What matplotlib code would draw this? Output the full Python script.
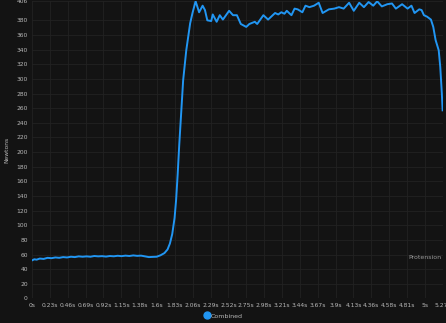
import matplotlib
matplotlib.use("Agg")
import matplotlib.pyplot as plt
from matplotlib.lines import Line2D

# force trace (seconds, newtons)
times = [0.00, 0.03, 0.06, 0.10, 0.15, 0.20, 0.25, 0.30, 0.35, 0.40, 0.45, 0.50,
         0.55, 0.60, 0.65, 0.70, 0.75, 0.80, 0.85, 0.90, 0.95, 1.00, 1.05, 1.10,
         1.15, 1.20, 1.25, 1.30, 1.35, 1.40, 1.45, 1.50, 1.55, 1.60, 1.65, 1.70,
         1.74, 1.77, 1.80, 1.83, 1.85, 1.87, 1.89, 1.91, 1.94, 1.98, 2.03, 2.06,
         2.10, 2.145, 2.19, 2.22, 2.25, 2.30, 2.32, 2.37, 2.41, 2.45, 2.53, 2.58,
         2.63, 2.68, 2.75, 2.79, 2.86, 2.89, 2.97, 3.03, 3.12, 3.16, 3.20, 3.24,
         3.27, 3.33, 3.37, 3.41, 3.47, 3.51, 3.56, 3.62, 3.68, 3.73, 3.81, 3.88,
         3.94, 4.00, 4.07, 4.13, 4.20, 4.26, 4.32, 4.38, 4.43, 4.49, 4.56, 4.62,
         4.67, 4.75, 4.82, 4.87, 4.91, 4.97, 5.00, 5.03, 5.07, 5.12, 5.15, 5.18,
         5.22, 5.24, 5.26, 5.27]
force = [52.0, 53.5, 53.0, 54.5, 54.0, 55.5, 55.0, 56.0, 55.5, 56.5, 56.0, 57.0,
         56.5, 57.5, 57.0, 57.5, 57.0, 58.0, 57.5, 57.8, 57.2, 58.0, 57.6, 58.3,
         57.8, 58.5, 58.0, 58.8, 58.2, 58.5, 57.5, 56.5, 56.8, 57.0, 59.0, 62.0,
         67.0, 75.0, 88.0, 110.0, 135.0, 170.0, 210.0, 245.0, 298.0, 339.0, 376.0, 390.0,
         406.0, 391.0, 400.0, 394.0, 380.0, 379.0, 388.0, 378.0, 387.0, 381.0, 393.0, 387.0,
         387.0, 375.0, 371.0, 375.0, 378.0, 375.0, 387.0, 381.0, 390.0, 388.0, 391.0, 389.0,
         393.0, 387.0, 396.0, 395.0, 391.0, 400.0, 398.0, 400.0, 404.0, 390.0, 395.0, 396.0,
         398.0, 396.0, 404.0, 393.0, 404.0, 398.0, 405.0, 400.0, 406.0, 399.0, 402.0, 403.0,
         396.0, 402.0, 396.0, 400.0, 390.0, 395.0, 394.0, 387.0, 385.0, 381.0, 371.0, 353.0,
         339.0, 316.0, 280.0, 257.0]

x_ticks = [i * 0.2292 for i in range(24)]
x_labels = ["0s", "0.23s", "0.46s", "0.69s", "0.92s", "1.15s", "1.38s", "1.6s",
            "1.83s", "2.06s", "2.29s", "2.52s", "2.75s", "2.98s", "3.21s", "3.44s",
            "3.67s", "3.9s", "4.13s", "4.36s", "4.58s", "4.81s", "5s", "5.27s"]
y_ticks = list(range(0, 381, 20)) + [406]

bg = "#131313"
grid_c = "#222222"
text_c = "#b8b8b8"
line_c = "#2196f3"

fig = plt.figure(figsize=(4.46, 3.23), dpi=100, facecolor=bg)
ax = fig.add_axes([0.0717, 0.076, 0.921, 0.92], facecolor=bg)

ax.plot(times, force, color=line_c, lw=1.4, solid_joinstyle="round")

ax.set_xlim(0, 5.27)
ax.set_ylim(0, 406)
ax.set_xticks(x_ticks)
ax.set_xticklabels(x_labels)
ax.set_yticks(y_ticks)
ax.tick_params(colors=text_c, labelsize=4.3, length=0, pad=3)
ax.grid(True, color=grid_c, lw=0.6)
for s in ax.spines.values():
    s.set_visible(False)

ax.set_ylabel("Newtons", color=text_c, fontsize=4.3, labelpad=5)
ax.text(5.25, 56, "Protension", color="#9a9a9a", fontsize=4.5,
        ha="right", va="center")

handle = Line2D([], [], marker="o", color=line_c, lw=0, markersize=5)
leg = fig.legend([handle], ["Combined"], loc="center", bbox_to_anchor=(0.5, 0.022),
                 frameon=False, fontsize=4.5, handletextpad=0.1, handlelength=1.0)
for t in leg.get_texts():
    t.set_color(text_c)

fig.savefig("out.png", dpi=100, facecolor=bg)
